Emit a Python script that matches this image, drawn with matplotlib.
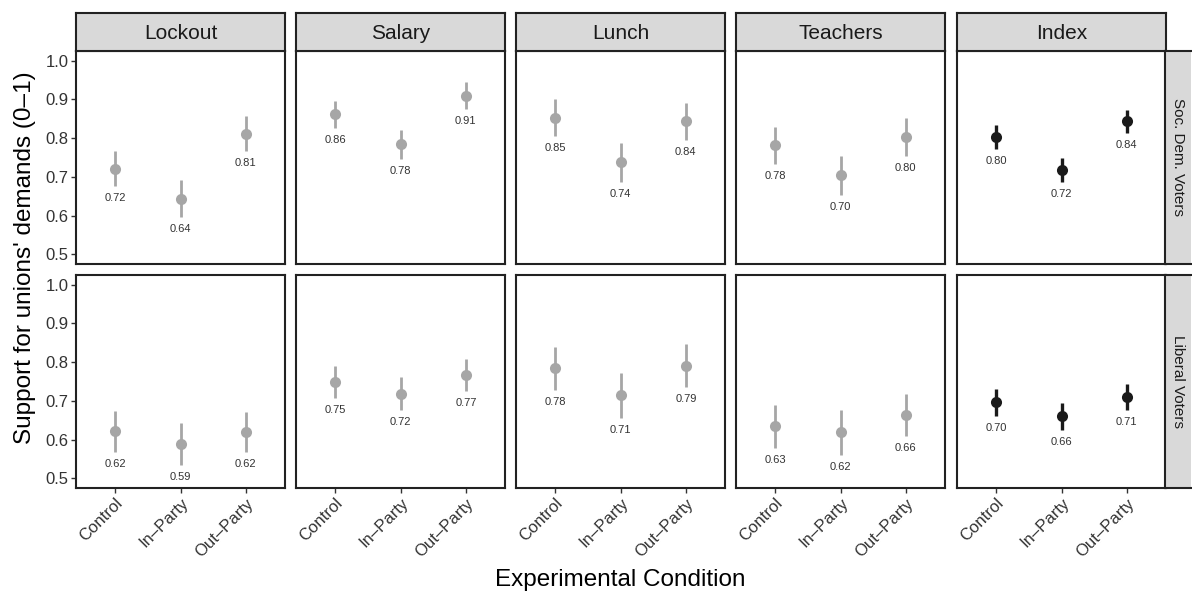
import numpy as np
import matplotlib
matplotlib.use("Agg")
import matplotlib.pyplot as plt

plt.rcParams['font.family'] = ['Liberation Sans', 'DejaVu Sans']

# data
conditions = ["Control", "In–Party", "Out–Party"]
issues = ["Lockout", "Salary", "Lunch", "Teachers", "Index"]
groups = ["Soc. Dem. Voters", "Liberal Voters"]

# Soc. Dem. voters: estimates and half-width of the interval
sd_lockout = [0.721, 0.644, 0.811]
sd_lockout_ci = [0.045, 0.048, 0.045]
sd_salary = [0.862, 0.784, 0.910]
sd_salary_ci = [0.035, 0.037, 0.035]
sd_lunch = [0.853, 0.738, 0.844]
sd_lunch_ci = [0.048, 0.050, 0.048]
sd_teachers = [0.782, 0.704, 0.803]
sd_teachers_ci = [0.048, 0.050, 0.048]
sd_index = [0.803, 0.718, 0.843]
sd_index_ci = [0.030, 0.030, 0.030]

# Liberal voters
lib_lockout = [0.621, 0.589, 0.620]
lib_lockout_ci = [0.052, 0.055, 0.052]
lib_salary = [0.748, 0.719, 0.767]
lib_salary_ci = [0.041, 0.043, 0.042]
lib_lunch = [0.784, 0.714, 0.791]
lib_lunch_ci = [0.056, 0.058, 0.055]
lib_teachers = [0.634, 0.619, 0.664]
lib_teachers_ci = [0.055, 0.058, 0.055]
lib_index = [0.696, 0.660, 0.710]
lib_index_ci = [0.035, 0.035, 0.034]

est = [[sd_lockout, sd_salary, sd_lunch, sd_teachers, sd_index],
       [lib_lockout, lib_salary, lib_lunch, lib_teachers, lib_index]]
cis = [[sd_lockout_ci, sd_salary_ci, sd_lunch_ci, sd_teachers_ci, sd_index_ci],
       [lib_lockout_ci, lib_salary_ci, lib_lunch_ci, lib_teachers_ci, lib_index_ci]]

W, H = 1192, 594
fig = plt.figure(figsize=(W / 100, H / 100), dpi=100)

def fr(x0, y0, x1, y1):
    # pixel box (top-left origin) -> figure fraction rect
    return [x0 / W, 1 - y1 / H, (x1 - x0) / W, (y1 - y0) / H]

lefts = [76, 296, 516, 736, 957]
pw = 209
tops = [51, 275]
ph = 213
edge = "#222222"
strip_col = "#D9D9D9"

x = np.arange(1, 4)
for r in range(2):
    for c in range(5):
        ax = fig.add_axes(fr(lefts[c], tops[r], lefts[c] + pw, tops[r] + ph))
        col = "#1A1A1A" if issues[c] == "Index" else "#A6A6A6"
        lw = 2.4 if issues[c] == "Index" else 2.0
        y = np.array(est[r][c])
        e = np.array(cis[r][c])
        ax.vlines(x, y - e, y + e, color=col, lw=lw, zorder=2)
        ax.plot(x, y, "o", color=col, ms=8, mew=0, zorder=3)
        for xi, yi, ei in zip(x, y, e):
            ax.text(xi, yi - ei - 0.031, f"{yi:.2f}", ha="center", va="center",
                    fontsize=8, color="#333333")
        ax.set_xlim(0.4, 3.6)
        ax.set_ylim(0.475, 1.025)
        ax.set_yticks([0.5, 0.6, 0.7, 0.8, 0.9, 1.0])
        ax.set_xticks(x)
        for s in ax.spines.values():
            s.set_color(edge)
            s.set_linewidth(1.5)
        ax.tick_params(length=3.5, width=1, color="#333333", labelsize=12,
                       labelcolor="#333333", pad=2)
        if c == 0:
            ax.set_yticklabels([f"{v:.1f}" for v in ax.get_yticks()])
        else:
            ax.tick_params(axis="y", left=False, labelleft=False)
        if r == 1:
            ax.set_xticklabels(conditions, rotation=45, ha="right",
                               va="top", rotation_mode="anchor")
        else:
            ax.set_xticklabels([])
            ax.tick_params(axis="x", bottom=False)

        # top strips
        if r == 0:
            sa = fig.add_axes(fr(lefts[c], 13, lefts[c] + pw, tops[0]))
            sa.set_facecolor(strip_col)
            sa.set_xticks([])
            sa.set_yticks([])
            for s in sa.spines.values():
                s.set_color(edge)
                s.set_linewidth(1.5)
            sa.text(0.5, 0.47, issues[c], ha="center", va="center",
                    fontsize=15, color="#1A1A1A", transform=sa.transAxes)
    # right strips
    ra = fig.add_axes(fr(1165, tops[r], 1191, tops[r] + ph))
    ra.set_facecolor(strip_col)
    ra.set_xticks([])
    ra.set_yticks([])
    for s in ra.spines.values():
        s.set_color(edge)
        s.set_linewidth(1.5)
    ra.spines["right"].set_visible(False)
    ra.text(0.5, 0.5, groups[r], ha="center", va="center", rotation=-90,
            fontsize=11, color="#1A1A1A", transform=ra.transAxes)

fig.text(25 / W, 1 - 258 / H, "Support for unions' demands (0–1)", rotation=90,
         ha="center", va="center", fontsize=17.5)
fig.text(620 / W, 1 - 580 / H, "Experimental Condition", ha="center",
         va="center", fontsize=17.5)

fig.savefig("out.png", dpi=100)
